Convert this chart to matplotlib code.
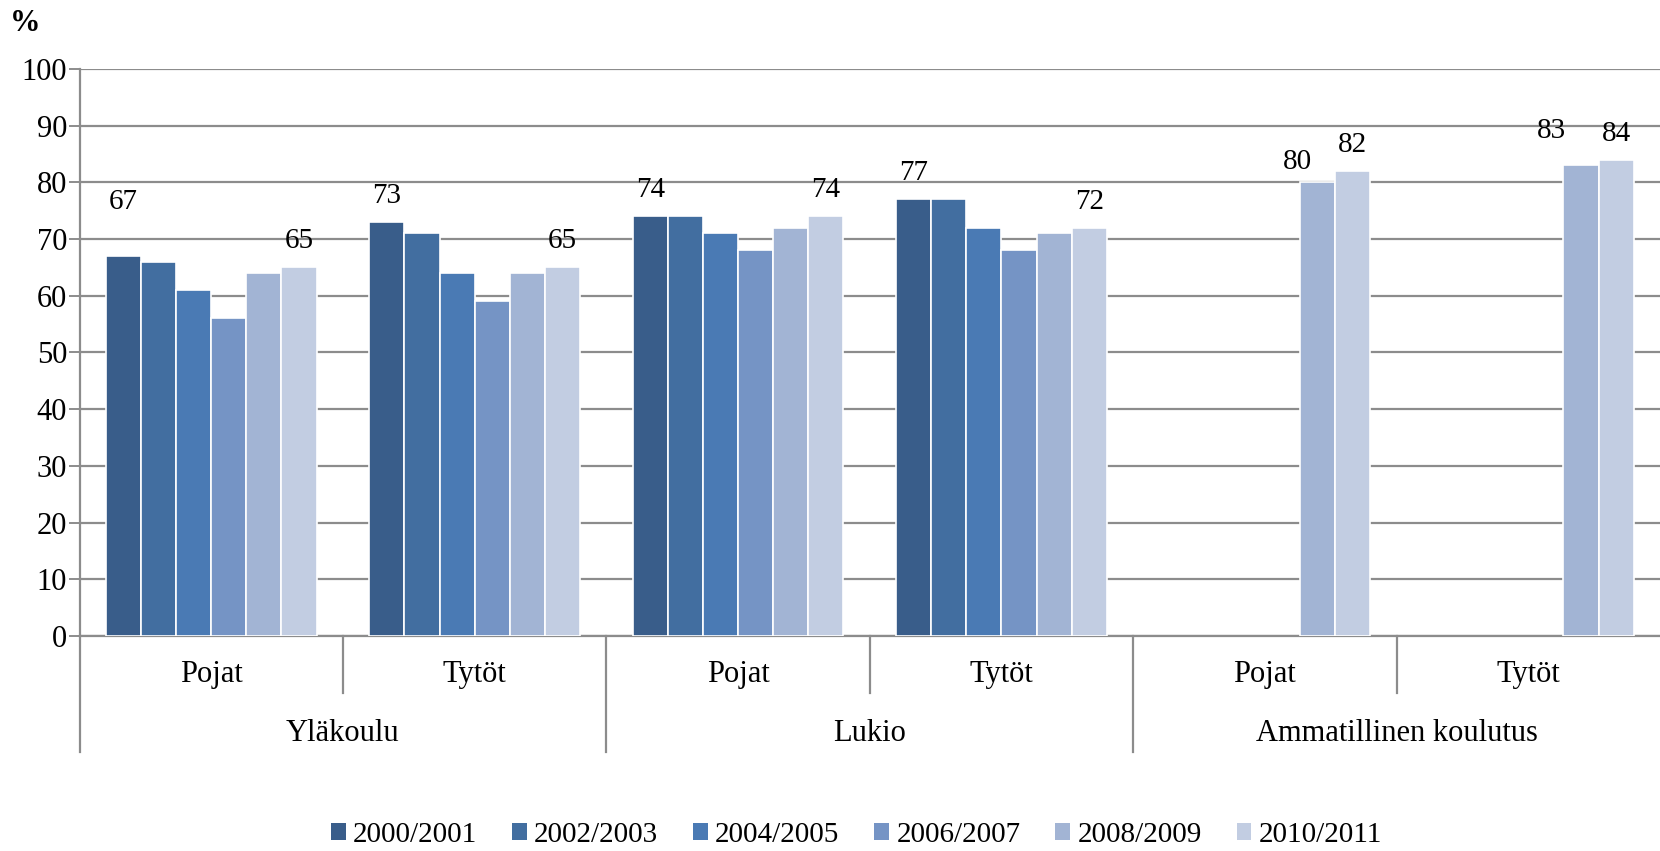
"""
Grouped bar chart: share (%) by school type, gender and survey year
"""

import matplotlib.pyplot as plt
from matplotlib.patches import Rectangle
import matplotlib.transforms as mtransforms
import numpy as np

plt.rcParams["font.family"] = ["Liberation Serif", "DejaVu Serif"]

SCHOOLS = ["Yläkoulu", "Lukio", "Ammatillinen koulutus"]
GENDERS = ["Pojat", "Tytöt"]
YEARS = ["2000/2001", "2002/2003", "2004/2005", "2006/2007", "2008/2009", "2010/2011"]

# one list per year, order: Ylä P, Ylä T, Lukio P, Lukio T, Amm P, Amm T
Y2000 = [67, 73, 74, 77, np.nan, np.nan]
Y2002 = [66, 71, 74, 77, np.nan, np.nan]
Y2004 = [61, 64, 71, 72, np.nan, np.nan]
Y2006 = [56, 59, 68, 68, np.nan, np.nan]
Y2008 = [64, 64, 72, 71, 80, 83]
Y2010 = [65, 65, 74, 72, 82, 84]
SERIES = [Y2000, Y2002, Y2004, Y2006, Y2008, Y2010]

COLORS = ["#395D8A", "#426EA0", "#4A7AB4", "#7594C5", "#A2B4D4", "#C2CDE2"]

# which values get a data label: (series index, category index)
LABELS = [(0, 0), (5, 0), (0, 1), (5, 1), (0, 2), (5, 2), (0, 3), (5, 3),
          (4, 4), (5, 4), (4, 5), (5, 5)]
# small tweaks in pixels (dx, dy) to follow the original placement
LABEL_NUDGE = {(0, 0): (0, 28), (4, 4): (-20, -6), (4, 5): (-30, 8)}

GRID = "#8C8C8C"
FS = 22

fig = plt.figure(figsize=(16.6, 8.51), dpi=100)
ax = fig.add_axes([0.0479, 0.2526, 0.9521, 0.6664])

n_cat = len(SCHOOLS) * len(GENDERS)
x = np.arange(n_cat)
width = 0.8 / len(SERIES)

for i, (vals, col) in enumerate(zip(SERIES, COLORS)):
    pos = x - 0.4 + width * (i + 0.5)
    ax.bar(pos, vals, width=width, color=col, edgecolor="white",
           linewidth=1.2, zorder=3)

for si, ci in LABELS:
    v = SERIES[si][ci]
    pos = x[ci] - 0.4 + width * (si + 0.5)
    dx, dy = LABEL_NUDGE.get((si, ci), (0, 0))
    ax.annotate(f"{v:.0f}", (pos, v), xytext=(dx, 26 + dy),
                textcoords="offset pixels", ha="center", va="center",
                fontsize=FS - 1, zorder=4)

ax.set_xlim(-0.5, n_cat - 0.5)
ax.set_ylim(0, 100)
ax.set_yticks(range(0, 101, 10))
ax.yaxis.grid(True, color=GRID, linewidth=1.6, zorder=0)
ax.set_axisbelow(True)
ax.tick_params(axis="y", length=8, width=1.4, color=GRID, labelsize=FS, pad=1)
ax.set_xticks([])
for side in ["top", "right"]:
    ax.spines[side].set_visible(False)
ax.spines["left"].set_color(GRID)
ax.spines["left"].set_linewidth(1.6)
ax.spines["bottom"].set_color(GRID)
ax.spines["bottom"].set_linewidth(1.6)

# two-level category axis
trans = mtransforms.blended_transform_factory(ax.transData, ax.transAxes)
for k in range(n_cat):
    ax.text(x[k], -0.067, GENDERS[k % 2], transform=trans, ha="center",
            va="center", fontsize=FS)
for g, name in enumerate(SCHOOLS):
    ax.text(2 * g + 0.5, -0.171, name, transform=trans, ha="center",
            va="center", fontsize=FS)
for b in np.arange(-0.5, n_cat - 0.5, 1.0):
    long_line = (b + 0.5) % 2 == 0
    low = -0.205 if long_line else -0.1
    ax.plot([b, b], [0, low], transform=trans, color=GRID, linewidth=1.6,
            clip_on=False)

fig.text(0.006, 0.972, "%", fontsize=FS, fontweight="bold", ha="left",
         va="center")

handles = [Rectangle((0, 0), 1, 1, facecolor=c, edgecolor="none") for c in COLORS]
fig.legend(handles, YEARS, loc="center", bbox_to_anchor=(0.516, 0.019),
           ncol=6, frameon=False, fontsize=FS - 1, handlelength=0.5,
           handleheight=0.5, handletextpad=0.25, columnspacing=1.2,
           borderpad=0.2)

plt.savefig("out.png", dpi=100)
